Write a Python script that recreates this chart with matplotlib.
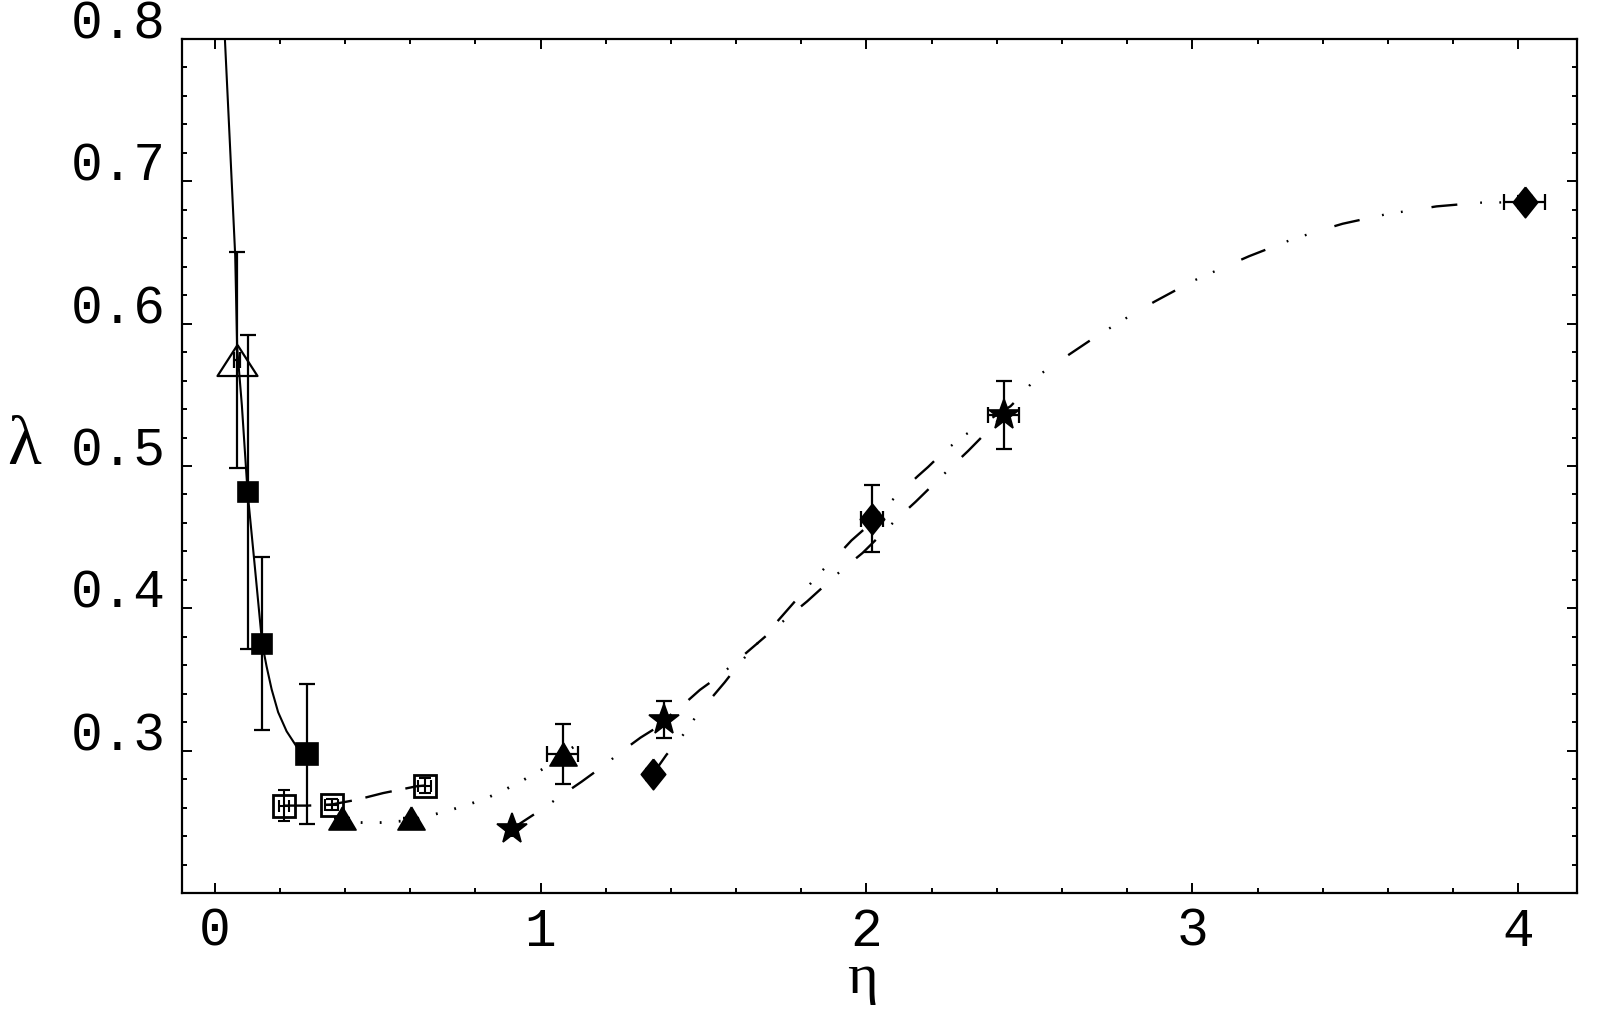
import matplotlib
matplotlib.use('Agg')
import matplotlib.pyplot as plt
from matplotlib.transforms import ScaledTranslation
from matplotlib.ticker import MultipleLocator, FixedLocator, FixedFormatter

plt.rcParams['lines.scale_dashes'] = False

# ---------------- data ----------------
# filled squares
sq_x = [0.101, 0.146, 0.284]
sq_y = [0.4817, 0.3752, 0.2975]
sq_xerr = [0.0, 0.0, 0.008]
sq_yerr = [0.110, 0.0606, 0.049]

# open triangle
otri_x = [0.069]
otri_y = [0.5745]
otri_xerr = [0.010]
otri_yerr = [0.076]

# open squares
osq_x = [0.2135, 0.359, 0.645]
osq_y = [0.2614, 0.2620, 0.2755]
osq_xerr = [0.015, 0.020, 0.020]
osq_yerr = [0.011, 0.004, 0.005]

# filled triangles
tri_x = [0.390, 0.604, 1.068]
tri_y = [0.2525, 0.2530, 0.2975]
tri_xerr = [0.0, 0.0, 0.047]
tri_yerr = [0.0, 0.0, 0.021]

# stars
star_x = [0.911, 1.379, 2.421]
star_y = [0.2447, 0.3216, 0.5360]
star_xerr = [0.0, 0.0, 0.0475]
star_yerr = [0.0, 0.013, 0.024]

# diamonds
dia_x = [1.344, 2.018, 4.019]
dia_y = [0.2833, 0.4629, 0.6854]
dia_xerr = [0.0, 0.034, 0.064]
dia_yerr = [0.004, 0.0236, 0.004]

# curves
solid_x = [0.0316, 0.0475, 0.0632, 0.0693, 0.0837, 0.1012, 0.1236, 0.146,
           0.1595, 0.175, 0.195, 0.221, 0.2515, 0.265]
solid_y = [0.800, 0.724, 0.648, 0.583, 0.5425, 0.4817, 0.4289, 0.3752,
           0.3592, 0.3431, 0.327, 0.3136, 0.3029, 0.300]

dash_x = [0.2135, 0.287, 0.359, 0.436, 0.517, 0.558, 0.620, 0.645]
dash_y = [0.2614, 0.2614, 0.2622, 0.2655, 0.2702, 0.2721, 0.2750, 0.2755]

dot_x = [0.390, 0.451, 0.509, 0.604, 0.671, 0.727, 0.783, 0.836, 0.890,
         0.942, 0.993, 1.013, 1.068, 1.110]
dot_y = [0.2500, 0.2495, 0.2495, 0.2510, 0.2550, 0.2585, 0.2625, 0.2668,
         0.2725, 0.2787, 0.2852, 0.2880, 0.2975, 0.3040]

star_cx = [0.911, 0.937, 1.008, 1.066, 1.126, 1.192, 1.248, 1.307, 1.356,
           1.379, 1.428, 1.489, 1.550, 1.756, 1.818, 1.926, 1.988, 2.092,
           2.151, 2.256, 2.312, 2.421]
star_cy = [0.2447, 0.2488, 0.2594, 0.2688, 0.2782, 0.2892, 0.2993, 0.3092,
           0.3162, 0.3216, 0.3303, 0.3427, 0.3528, 0.3932, 0.4049, 0.4273,
           0.4389, 0.4625, 0.4749, 0.4984, 0.5106, 0.5360]

dia_cx = [1.344, 1.386, 1.437, 1.480, 1.517, 1.565, 1.611, 1.660, 1.722,
          1.857, 1.906, 1.954, 1.998, 2.018, 2.158, 2.189, 2.240, 2.302,
          2.442, 2.470, 2.526, 2.593, 2.703, 2.814, 2.884, 3.000, 3.101,
          3.174, 3.298, 3.384, 3.461, 3.593, 3.749, 3.881, 4.019]
dia_cy = [0.2833, 0.297, 0.311, 0.325, 0.335, 0.348, 0.3615, 0.374, 0.3896,
          0.4249, 0.4359, 0.4477, 0.4566, 0.4629, 0.493, 0.4993, 0.5106,
          0.5218, 0.542, 0.5485, 0.5634, 0.5739, 0.5908, 0.6063, 0.6155,
          0.6298, 0.6401, 0.6474, 0.6585, 0.6650, 0.6702, 0.6768, 0.6824,
          0.6850, 0.6854]

xticks = [0, 1, 2, 3, 4]
xtick_labels = ['0', '1', '2', '3', '4']
yticks = [0.2, 0.3, 0.4, 0.5, 0.6, 0.7, 0.8]
ytick_labels = ['', '0.3', '0.4', '0.5', '0.6', '0.7', '0.8']

# ---------------- figure ----------------
W, H = 1600, 1015
fig = plt.figure(figsize=(W / 100, H / 100), dpi=100)
L, R, T, B = 182, 1577, 39, 893
ax = fig.add_axes([L / W, 1 - B / H, (R - L) / W, (B - T) / H])
ax.set_xlim(-0.1, 4.18)
ax.set_ylim(0.2, 0.8)

k = 'black'
# curves
ax.plot(solid_x, solid_y, color=k, lw=1.5, zorder=2)
ax.plot(dash_x, dash_y, color=k, lw=1.7, linestyle=(0, (19.5, 10)), zorder=2)
ax.plot(dot_x, dot_y, color=k, lw=2.0, linestyle=(0, (1.3, 12.4)), zorder=2)
ax.plot(star_cx, star_cy, color=k, lw=1.7,
        linestyle=(0, (19.4, 16.0, 1.3, 16.0)), zorder=2)
ax.plot(dia_cx, dia_cy, color=k, lw=1.7,
        linestyle=(0, (18.7, 16.5, 1.3, 12.5, 1.3, 21.0)), zorder=2)

eb = dict(fmt='none', ecolor=k, elinewidth=1.6, capsize=6, capthick=1.6,
          zorder=3)
ax.errorbar(sq_x, sq_y, xerr=sq_xerr, yerr=sq_yerr, **eb)
ax.errorbar(otri_x, otri_y, xerr=otri_xerr, yerr=otri_yerr, **eb)
ax.errorbar(osq_x, osq_y, xerr=osq_xerr, yerr=osq_yerr,
            fmt='none', ecolor=k, elinewidth=1.5, capsize=4.5, capthick=1.5,
            zorder=3)
ax.errorbar(tri_x, tri_y, xerr=tri_xerr, yerr=tri_yerr, **eb)
ax.errorbar(star_x, star_y, xerr=star_xerr, yerr=star_yerr, **eb)
ax.errorbar(dia_x, dia_y, xerr=dia_xerr, yerr=dia_yerr, **eb)

big_tri = [(0, 1), (-1.29, -1), (1.29, -1), (0, 1)]
small_tri = [(0, 1), (-1.18, -1), (1.18, -1), (0, 1)]
diamond = [(0, 1), (-0.8, 0), (0, -1), (0.8, 0), (0, 1)]

ax.plot(sq_x[:2], sq_y[:2], 's', ms=14.5, mfc=k, mec=k, mew=1.2, zorder=4)
ax.plot(sq_x[2:], sq_y[2:], 's', ms=16, mfc=k, mec=k, mew=1.2, zorder=4)
ax.plot(otri_x, otri_y, linestyle='none', marker=big_tri, ms=28.8,
        mfc='none', mec=k, mew=1.6, zorder=4)
ax.plot(osq_x, osq_y, 's', ms=16.5, mfc='none', mec=k, mew=2.0, zorder=4)
ax.plot(tri_x, tri_y, linestyle='none', marker=small_tri, ms=19.5,
        mfc=k, mec=k, mew=1.2, zorder=4)
ax.plot(star_x, star_y, '*', ms=23, mfc=k, mec=k, mew=1.2, zorder=4)
ax.plot(dia_x, dia_y, linestyle='none', marker=diamond, ms=22,
        mfc=k, mec=k, mew=1.2, zorder=4)

# axes styling
for s in ax.spines.values():
    s.set_linewidth(1.6)
ax.xaxis.set_major_locator(FixedLocator(xticks))
ax.xaxis.set_major_formatter(FixedFormatter(xtick_labels))
ax.xaxis.set_minor_locator(MultipleLocator(0.2))
ax.yaxis.set_major_locator(FixedLocator(yticks))
ax.yaxis.set_major_formatter(FixedFormatter(ytick_labels))
ax.yaxis.set_minor_locator(MultipleLocator(0.02))
ax.tick_params(which='both', direction='in', top=True, right=True,
               width=1.4, colors=k)
ax.tick_params(which='major', length=7)
ax.tick_params(which='minor', length=3.8)
ax.tick_params(axis='y', which='major', pad=12)
ax.tick_params(axis='x', which='major', pad=10)

mono = 'Liberation Mono'
for lab in ax.get_xticklabels():
    lab.set_fontfamily(mono)
    lab.set_fontsize(38)
off = ScaledTranslation(0, 0.20, fig.dpi_scale_trans)
for lab in ax.get_yticklabels():
    lab.set_fontfamily(mono)
    lab.set_fontsize(38)
    lab.set_transform(lab.get_transform() + off)

fig.text(24 / W, 1 - 447 / H, 'λ', family='Liberation Serif', fontsize=50,
         ha='center', va='center')
fig.text(862 / W, 1 - 979 / H, 'η', family='Liberation Serif', fontsize=42,
         ha='center', va='center')

fig.savefig('out.png', dpi=100, facecolor='white')
